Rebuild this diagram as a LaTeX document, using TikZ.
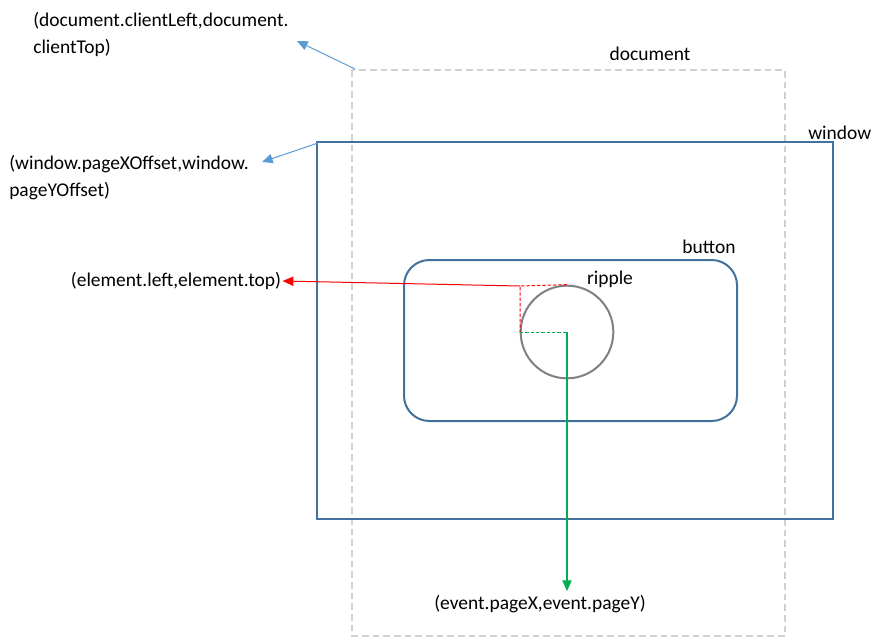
\documentclass[tikz,border=0pt]{standalone}
\usepackage{fontspec}
\setmainfont{Carlito}
\usetikzlibrary{arrows.meta}
\definecolor{docgray}{HTML}{D0D0D0}
\definecolor{winblue}{HTML}{41719C}
\definecolor{arrblue}{HTML}{5B9BD5}
\definecolor{ripgray}{HTML}{808080}
\definecolor{evgreen}{HTML}{00B050}
\begin{document}
\begin{tikzpicture}[x=0.75pt,y=-0.75pt,
  lbl/.style={inner sep=0pt,font=\fontsize{14.6pt}{17pt}\selectfont,text=black},
  frame/.style={draw=winblue,line width=1.5pt},
  docframe/.style={draw=docgray,line width=1.5pt,dash pattern=on 5pt off 3pt},
  bluearrow/.style={color=arrblue,line width=0.75pt,-{Triangle[length=8pt,width=7pt]}},
  redarrow/.style={color=red,line width=0.75pt,-{Triangle[length=8pt,width=7pt]}},
  greenarrow/.style={color=evgreen,line width=0.8pt,-{Triangle[length=8pt,width=7pt]}},
  smalldash/.style={line width=0.75pt,dash pattern=on 2.5pt off 1.5pt}]
\useasboundingbox (0,0) rectangle (895,642);
% frames
\coordinate (docTL) at (352,70);
\coordinate (docBR) at (785,636);
\draw[docframe] (docTL) rectangle (docBR);
\coordinate (winTL) at (317,142);
\coordinate (winBR) at (833,519);
\draw[frame] (winTL) rectangle (winBR);
\draw[frame,rounded corners=19pt] (404,260) rectangle (737,421);
\node[draw=ripgray,line width=1.5pt,circle,minimum size=69.5pt,inner sep=0pt] (rip) at (567,332) {};
% labels
\node[lbl] (ldoc) at (650,54) {document};
\node[lbl,anchor=west] (lwin) at (808,133) {window};
\node[lbl] (lbtn) at (709,247) {button};
\node[lbl] (lrip) at (610,279) {ripple};
\node[lbl,anchor=west] (dc1) at (33,21) {(document.clientLeft,document.};
\node[lbl,anchor=west] (dc2) at (33,48) {clientTop)};
\node[lbl,anchor=west] (wo1) at (9,164) {(window.pageXOffset,window.};
\node[lbl,anchor=west] (wo2) at (9,191) {pageYOffset)};
\node[lbl] (el) at (176,281) {(element.left,element.top)};
\node[lbl] (ev) at (540,604) {(event.pageX,event.pageY)};
% blue arrows
\coordinate (dcT) at (297,41);
\coordinate (woT) at (262,162);
\draw[bluearrow] (355,69) -- (dcT);
\draw[bluearrow] (318,143) -- (woT);
% red
\coordinate (rc) at (520,286);
\coordinate (rm) at (520,332);
\draw[red,smalldash] (rip.north) -- (rc) -- (rm);
\draw[redarrow] (rc) -- ([xshift=1pt]el.east);
% green
\coordinate (gEnd) at (567,591);
\draw[evgreen,smalldash] (rm) -- (rip.center);
\draw[greenarrow] (rip.center) -- (gEnd);
\end{tikzpicture}
\end{document}
